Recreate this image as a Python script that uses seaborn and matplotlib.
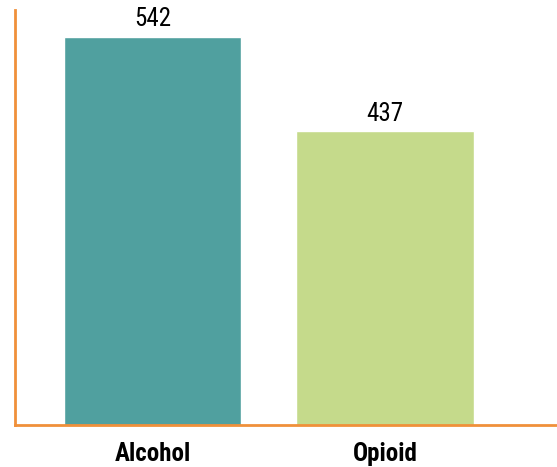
import matplotlib
matplotlib.use("Agg")
import matplotlib.pyplot as plt
import seaborn as sns
import pandas as pd

categories = ["Alcohol", "Opioid"]
values = [542, 437]
colors = ["#50A09F", "#C5DA8B"]

sns.set_style("white")
plt.rcParams['font.family'] = ['Roboto Condensed', 'DejaVu Sans']

df = pd.DataFrame({'cat': categories, 'val': values})

fig = plt.figure(figsize=(5.57, 4.67), dpi=100)
ax = fig.add_axes([15/557, 1 - 425/467, 542/557, 415/467])

sns.barplot(data=df, x='cat', y='val', hue='cat', palette=colors, width=0.763,
            legend=False, ax=ax, saturation=1)

# value labels above the bars
for i, v in enumerate(values):
    ax.annotate(str(v), (i, v), xytext=(0, 4), textcoords='offset points',
                ha='center', va='bottom', fontsize=18, color='black')

ax.set_ylim(110, 572)
ax.set_xlim(-0.593, 1.741)
ax.set_xlabel('')
ax.set_ylabel('')
ax.set_yticks([])
ax.tick_params(axis='x', length=0, pad=12, colors='black')
for lab in ax.get_xticklabels():
    lab.set_fontweight('bold')
    lab.set_fontsize(18)

for s in ['top', 'right']:
    ax.spines[s].set_visible(False)
for s in ['left', 'bottom']:
    ax.spines[s].set_color('#F0903A')
    ax.spines[s].set_linewidth(2)

fig.savefig('out.png', dpi=100)
